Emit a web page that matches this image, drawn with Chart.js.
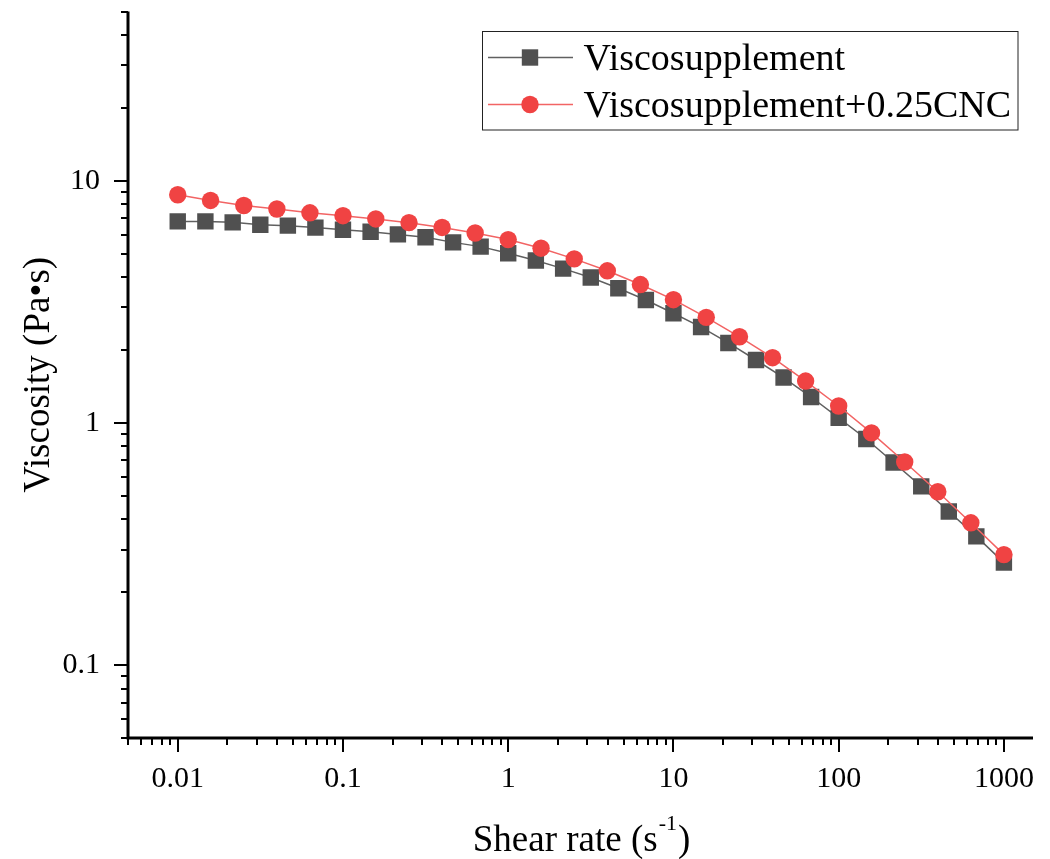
<!DOCTYPE html>
<html>
<head>
<meta charset="utf-8">
<script src="https://cdn.jsdelivr.net/npm/chart.js@4.4.0/dist/chart.umd.min.js"></script>
<style>
  html, body { margin: 0; padding: 0; background: #fff; }
  canvas { display: block; }
</style>
</head>
<body>
<canvas id="chart" width="1050" height="859"></canvas>
<script>
// ---------- Data ----------
const rateA = [0.01, 0.0147, 0.0215, 0.0316, 0.0464, 0.0681, 0.1, 0.147, 0.215, 0.316, 0.464, 0.681,
  1, 1.47, 2.15, 3.16, 4.64, 6.81, 10, 14.7, 21.5, 31.6, 46.4, 68.1, 100, 147, 215, 316, 464, 681, 1000];
const viscA = [6.80, 6.80, 6.74, 6.59, 6.53, 6.41, 6.28, 6.16, 6.01, 5.85, 5.57, 5.35,
  5.02, 4.69, 4.34, 3.99, 3.60, 3.22, 2.84, 2.49, 2.14, 1.82, 1.54, 1.28, 1.05, 0.859, 0.687, 0.547, 0.431, 0.340, 0.265];

const rateB = [0.01, 0.0158, 0.0251, 0.0398, 0.0631, 0.1, 0.158, 0.251, 0.398, 0.631,
  1, 1.58, 2.51, 3.98, 6.31, 10, 15.8, 25.1, 39.8, 63.1, 100, 158, 251, 398, 631, 1000];
const viscB = [8.76, 8.30, 7.91, 7.65, 7.38, 7.18, 6.96, 6.72, 6.42, 6.09,
  5.72, 5.27, 4.76, 4.25, 3.73, 3.23, 2.73, 2.27, 1.86, 1.49, 1.175, 0.91, 0.69, 0.52, 0.387, 0.286];

const labelA = "Viscosupplement";
const labelB = "Viscosupplement+0.25CNC";

const xTicks = [0.01, 0.1, 1, 10, 100, 1000];
const yTicks = [0.1, 1, 10];
const xRange = [0.005, 1500];
const yRange = [0.05, 50];

// ---------- Style ----------
const FONT = "'Liberation Serif', 'Times New Roman', serif";
const GRAY = "#505050", GRAY_LINE = "#606060";
const RED = "#f04343", RED_LINE = "#f26464";

// minor tick values (2..9 per decade) inside a range
function minorTicks(lo, hi) {
  const out = [];
  for (let e = Math.floor(Math.log10(lo)); e <= Math.ceil(Math.log10(hi)); e++) {
    for (let m = 1; m <= 9; m++) {
      const v = +(m * Math.pow(10, e)).toPrecision(3);
      if (v >= lo * 0.999 && v <= hi * 1.001) out.push(v);
    }
  }
  return out;
}

// no automatic label overhang padding, the plot box is fixed
function noPad(s) {
  s.paddingTop = 0; s.paddingBottom = 0;
  s.paddingLeft = 0; s.paddingRight = 0;
}

// ---------- Plugins ----------
const axesPlugin = {
  id: "axesOrigin",
  afterDraw(chart) {
    const { ctx, chartArea: a } = chart;
    const xs = chart.scales.x, ys = chart.scales.y;
    ctx.save();
    ctx.strokeStyle = "#000";
    ctx.lineCap = "butt";

    // ticks
    ctx.lineWidth = 2;
    minorTicks(xRange[0], xRange[1]).forEach(v => {
      const major = xTicks.includes(v);
      const px = Math.round(xs.getPixelForValue(v));
      ctx.beginPath();
      ctx.moveTo(px, a.bottom);
      ctx.lineTo(px, a.bottom + (major ? 14 : 7));
      ctx.stroke();
    });
    minorTicks(yRange[0], yRange[1]).forEach(v => {
      const major = yTicks.includes(v);
      const py = Math.round(ys.getPixelForValue(v));
      ctx.beginPath();
      ctx.moveTo(a.left, py);
      ctx.lineTo(a.left - (major ? 14 : 7), py);
      ctx.stroke();
    });

    // axis lines
    ctx.lineWidth = 3;
    ctx.beginPath();
    ctx.moveTo(a.left, a.top);
    ctx.lineTo(a.left, a.bottom);
    ctx.lineTo(a.right, a.bottom);
    ctx.stroke();
    ctx.restore();
  }
};

const xTitlePlugin = {
  id: "xTitle",
  afterDraw(chart) {
    const { ctx, chartArea: a } = chart;
    const main = "Shear rate (s", sup = "-1", tail = ")";
    ctx.save();
    ctx.fillStyle = "#000";
    ctx.textBaseline = "alphabetic";
    ctx.textAlign = "left";
    ctx.font = `37px ${FONT}`;
    const w1 = ctx.measureText(main).width, w3 = ctx.measureText(tail).width;
    ctx.font = `22px ${FONT}`;
    const w2 = ctx.measureText(sup).width;
    let x = (a.left + a.right) / 2 - (w1 + w2 + w3) / 2;
    const base = 851;
    ctx.font = `37px ${FONT}`;
    ctx.fillText(main, x, base);
    x += w1 + 1;
    ctx.font = `22px ${FONT}`;
    ctx.fillText(sup, x, base - 21);
    x += w2 + 1;
    ctx.font = `37px ${FONT}`;
    ctx.fillText(tail, x, base);
    ctx.restore();
  }
};

const legendPlugin = {
  id: "originLegend",
  afterDraw(chart) {
    const { ctx } = chart;
    const box = { x: 482.5, y: 31.5, w: 535.5, h: 98.5 };
    const rows = [
      { label: labelA, y: 57.5, line: GRAY_LINE, fill: GRAY, shape: "rect" },
      { label: labelB, y: 104.5, line: RED_LINE, fill: RED, shape: "circle" }
    ];
    ctx.save();
    ctx.fillStyle = "#fff";
    ctx.fillRect(box.x, box.y, box.w, box.h);
    ctx.strokeStyle = "#222";
    ctx.lineWidth = 1;
    ctx.strokeRect(box.x, box.y, box.w, box.h);

    rows.forEach(r => {
      ctx.strokeStyle = r.line;
      ctx.lineWidth = 1.5;
      ctx.beginPath();
      ctx.moveTo(488, r.y);
      ctx.lineTo(573, r.y);
      ctx.stroke();
      ctx.fillStyle = r.fill;
      if (r.shape === "rect") {
        ctx.fillRect(530 - 8.2, r.y - 8.2, 16.4, 16.4);
      } else {
        ctx.beginPath();
        ctx.arc(530, r.y, 8.7, 0, Math.PI * 2);
        ctx.fill();
      }
      ctx.fillStyle = "#000";
      ctx.font = `38px ${FONT}`;
      ctx.textBaseline = "alphabetic";
      ctx.fillText(r.label, 583.5, r.y + 12.7);
    });
    ctx.restore();
  }
};

// ---------- Chart ----------
const ctx = document.getElementById("chart").getContext("2d");

new Chart(ctx, {
  type: "line",
  data: {
    datasets: [
      {
        label: labelB,
        data: rateB.map((x, i) => ({ x, y: viscB[i] })),
        borderColor: RED_LINE, borderWidth: 1.5,
        pointStyle: "circle", pointRadius: 8.7, pointBorderWidth: 0,
        pointBackgroundColor: RED, tension: 0, order: 0
      },
      {
        label: labelA,
        data: rateA.map((x, i) => ({ x, y: viscA[i] })),
        borderColor: GRAY_LINE, borderWidth: 1.5,
        pointStyle: "rect", pointRadius: 11.6, pointBorderWidth: 0,
        pointBackgroundColor: GRAY, tension: 0, order: 1
      }
    ]
  },
  options: {
    responsive: false,
    animation: false,
    devicePixelRatio: 1,
    layout: { padding: { top: 10, right: 17, left: 0, bottom: 0 } },
    plugins: { legend: { display: false }, tooltip: { enabled: false } },
    scales: {
      x: {
        type: "logarithmic", min: xRange[0], max: xRange[1],
        grid: { display: false }, border: { display: false },
        afterBuildTicks: (s) => { s.ticks = xTicks.map(v => ({ value: v })); },
        afterFit: (s) => { s.height = 121; noPad(s); },
        ticks: {
          autoSkip: false, maxRotation: 0, padding: 15, color: "#000",
          font: { family: FONT, size: 30 },
          callback: (v) => String(v)
        }
      },
      y: {
        type: "logarithmic", min: yRange[0], max: yRange[1],
        grid: { display: false }, border: { display: false },
        afterBuildTicks: (s) => { s.ticks = yTicks.map(v => ({ value: v })); },
        afterFit: (s) => { s.width = 128; noPad(s); },
        ticks: {
          autoSkip: false, padding: 20, color: "#000",
          font: { family: FONT, size: 30 },
          callback: (v) => String(v)
        },
        title: {
          display: true, text: "Viscosity (Pa•s)", color: "#000",
          font: { family: FONT, size: 37 },
          padding: { top: 17, bottom: 0 }
        }
      }
    }
  },
  plugins: [axesPlugin, xTitlePlugin, legendPlugin]
});
</script>
</body>
</html>
